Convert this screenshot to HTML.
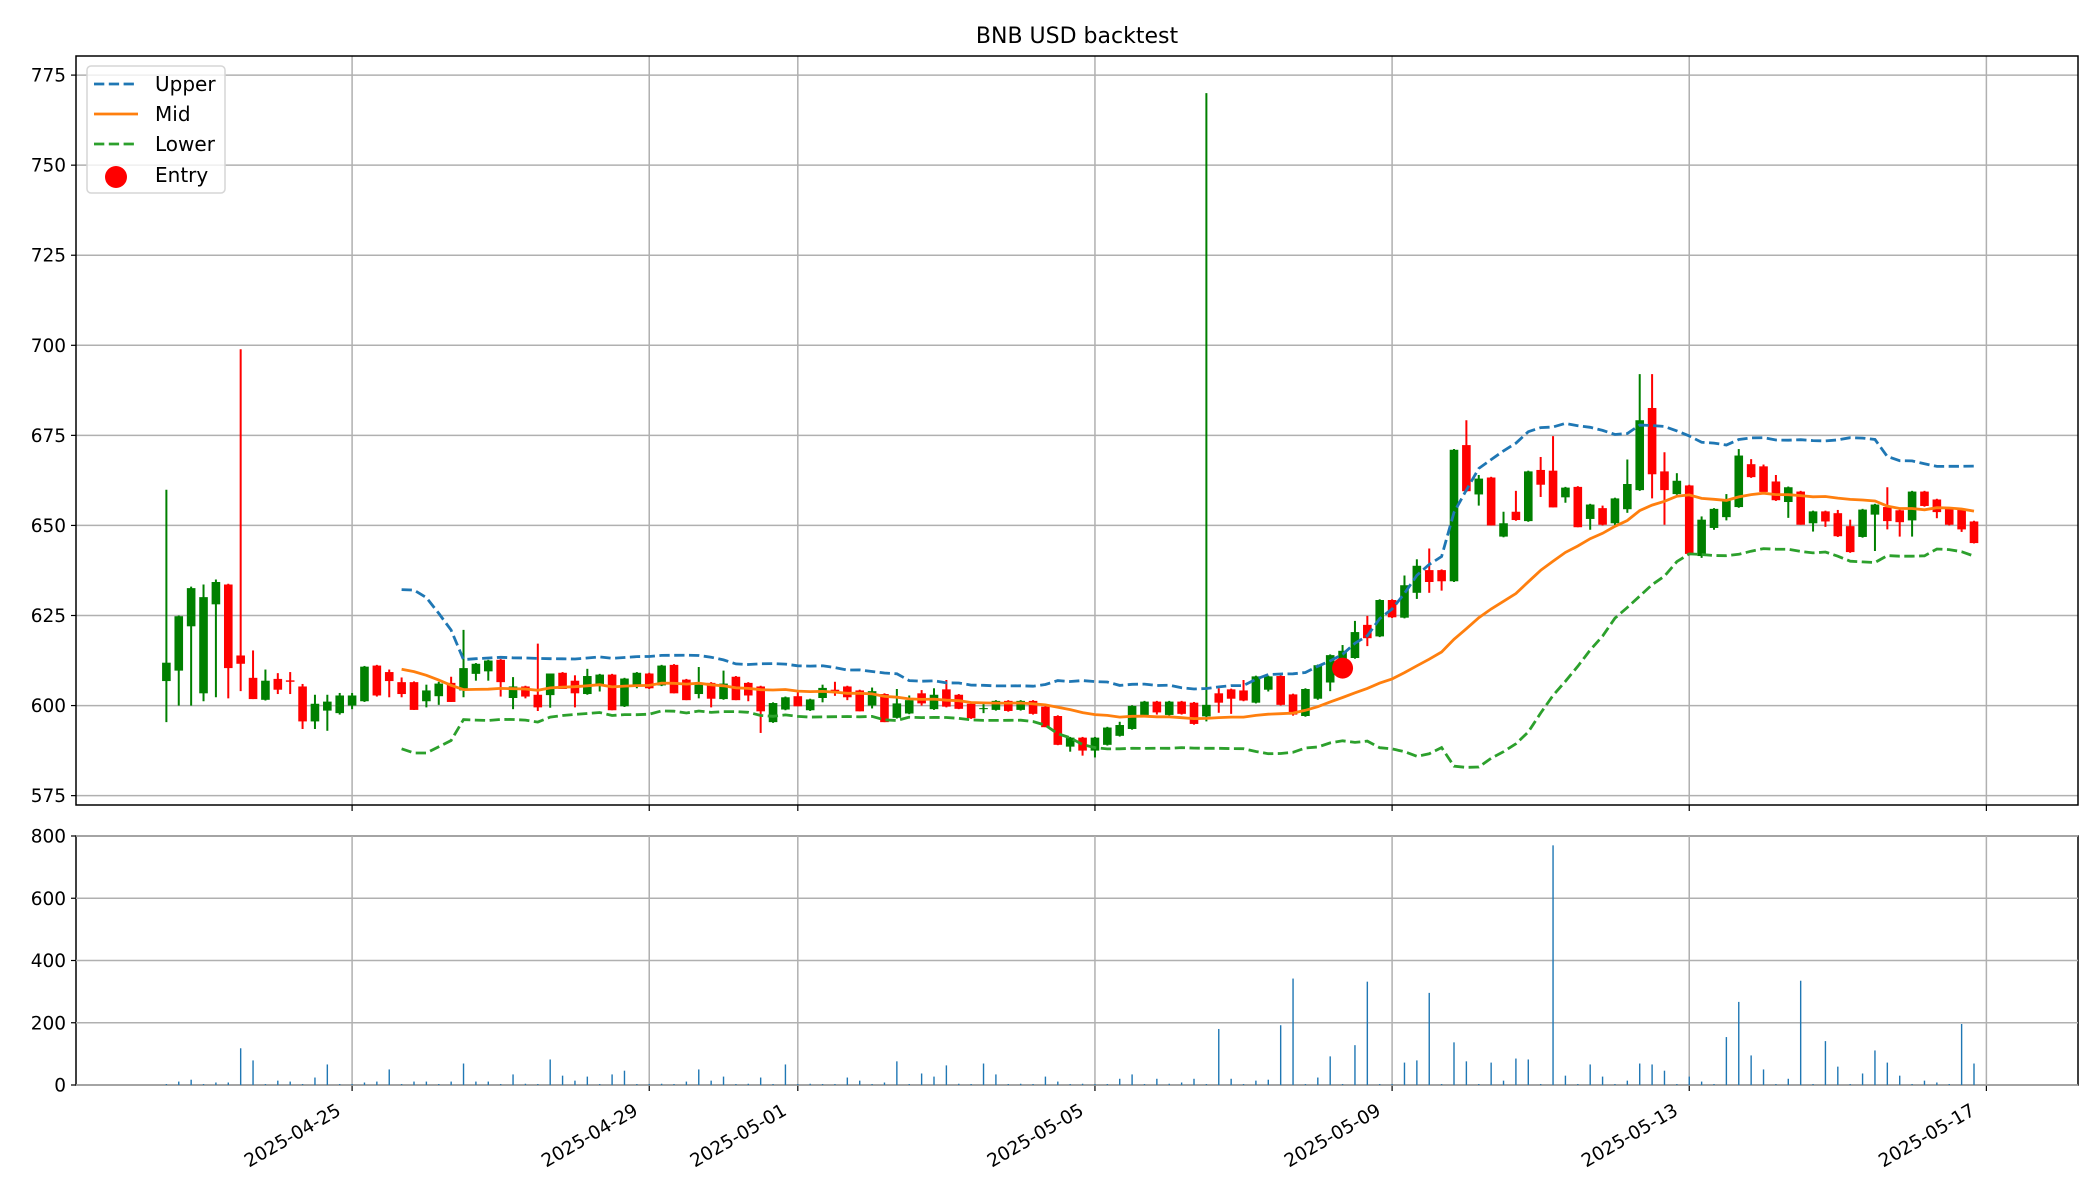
<!DOCTYPE html>
<html><head><meta charset="utf-8"><style>
html,body{margin:0;padding:0;background:#fff;}
svg{display:block;font-family:"DejaVu Sans","Liberation Sans",sans-serif;}
</style></head><body>
<svg id="chart" width="2100" height="1200" viewBox="0 0 2100 1200" xmlns="http://www.w3.org/2000/svg">
<rect width="2100" height="1200" fill="#fff"/>
<text x="1077" y="43" font-size="22" text-anchor="middle" fill="#000">BNB USD backtest</text>
<g id="main"></g><g id="vol"></g>
<g>
<rect x="87" y="66" width="138" height="127" rx="4" fill="#fff" fill-opacity="0.8" stroke="#d6d6d6" stroke-width="1.5"/>
<g><line x1="94" y1="84" x2="138" y2="84" stroke="#1f77b4" stroke-width="2.8" stroke-dasharray="10.3,4.5"/><text x="155" y="91" font-size="20">Upper</text></g>
<g><line x1="94" y1="114" x2="138" y2="114" stroke="#ff7f0e" stroke-width="2.8"/><text x="155" y="121" font-size="20">Mid</text></g>
<g><line x1="94" y1="144" x2="138" y2="144" stroke="#2ca02c" stroke-width="2.8" stroke-dasharray="10.3,4.5"/><text x="155" y="151" font-size="20">Lower</text></g>
<g><circle cx="116" cy="177" r="11" fill="#ff0000"/><text x="155" y="182" font-size="20">Entry</text></g>
</g>
</svg>
<script>
const opens=[606.8,609.7,622.0,603.4,628.1,633.6,613.9,607.7,601.6,607.4,607.0,605.3,595.6,598.6,597.9,600.0,601.2,611.1,609.3,606.5,606.5,601.2,602.6,606.3,604.2,608.8,609.5,612.7,602.1,605.3,603.0,602.9,609.1,606.9,603.2,605.4,608.6,599.8,605.6,608.9,605.6,611.3,607.2,603.2,606.3,601.8,608.0,606.3,605.3,595.4,598.9,602.6,598.7,602.1,604.4,605.3,604.2,600.0,603.2,596.6,597.8,603.4,599.0,604.5,603.0,600.5,599.0,598.8,601.3,598.8,601.3,599.7,597.1,588.6,591.1,587.5,589.1,591.6,593.5,597.4,601.1,597.4,601.1,600.8,597.0,603.4,604.5,604.2,600.8,604.4,608.2,603.1,597.1,601.9,606.4,612.3,613.2,622.4,619.2,629.3,624.4,631.3,637.6,637.6,634.5,672.3,658.6,663.3,646.9,653.8,651.2,665.4,665.2,657.8,660.7,651.8,654.8,650.6,654.5,659.8,682.6,665.0,658.7,661.1,641.5,649.3,652.3,655.1,667.0,666.4,662.2,656.5,659.4,650.6,653.9,653.4,649.8,646.8,653.0,655.1,654.2,651.4,659.4,657.2,654.6,654.4,651.1];
const highs=[659.9,625.0,633.0,633.6,635.0,633.8,698.9,615.3,610.0,609.0,609.3,606.0,603.0,603.0,603.5,603.5,611.0,611.3,610.0,607.8,606.7,605.8,606.6,608.0,621.0,611.8,612.7,612.9,607.9,605.5,617.2,608.9,609.3,608.4,610.2,608.8,608.8,607.7,609.3,609.1,611.3,611.5,607.4,610.7,606.5,609.7,608.2,606.5,605.5,600.9,602.5,603.7,601.9,605.8,606.6,605.5,604.4,605.0,603.4,604.6,602.8,604.3,604.8,607.1,603.2,600.7,600.6,601.5,601.5,601.5,601.5,599.9,597.3,591.3,591.3,591.3,594.1,595.5,600.1,601.3,601.3,601.3,601.3,601.0,770.0,604.8,604.7,607.1,608.3,608.3,608.4,603.3,604.8,611.4,614.2,616.8,623.5,624.9,629.5,629.5,636.1,640.6,643.6,637.8,671.2,679.2,664.0,663.5,653.8,659.6,665.2,669.0,674.8,660.7,660.9,656.0,655.5,657.7,668.3,692.0,692.0,670.3,664.5,661.3,652.5,654.8,658.7,671.2,668.4,666.9,664.0,660.8,659.6,654.1,654.1,654.3,651.6,654.6,656.0,660.6,654.4,659.6,659.6,657.4,654.8,654.6,651.3];
const lows=[595.4,600.0,600.0,601.2,602.3,602.0,604.0,601.8,601.4,603.2,603.2,593.5,593.5,593.0,597.5,599.0,601.0,602.5,602.3,602.3,598.8,599.5,600.2,601.0,602.3,606.9,606.9,602.5,599.0,602.0,598.5,599.4,604.6,599.5,603.0,603.9,598.7,599.6,604.8,604.6,605.4,603.4,601.5,602.0,599.5,601.6,601.5,601.2,592.4,595.2,598.7,599.8,598.5,600.9,602.7,601.5,598.4,599.2,595.4,596.4,597.6,600.0,598.8,599.5,599.0,596.3,597.9,598.6,598.3,598.6,597.5,594.0,589.0,587.2,586.1,585.6,588.9,591.4,593.3,597.2,597.5,597.2,597.5,594.7,595.6,598.0,597.7,601.2,600.6,603.9,600.0,597.2,596.9,601.6,604.0,612.1,613.0,616.5,619.0,624.3,624.2,629.6,631.3,631.9,634.3,659.3,655.5,650.0,646.7,651.3,651.0,657.9,655.0,656.3,649.5,648.8,650.0,649.5,653.5,659.6,657.5,650.2,658.5,642.1,641.0,648.8,651.4,654.9,663.2,659.1,656.8,652.1,650.2,648.3,649.6,646.8,642.4,646.6,642.9,648.9,646.9,646.9,655.2,652.0,650.0,648.2,645.0];
const closes=[611.9,624.8,632.6,630.1,634.3,610.4,611.6,601.8,606.9,604.4,606.6,595.6,600.5,601.1,602.8,602.8,610.8,602.8,606.8,603.2,598.8,604.2,606.1,601.0,610.4,611.6,612.5,606.5,605.3,602.5,599.5,608.9,604.6,603.4,608.2,608.6,598.7,607.5,609.1,604.8,611.1,603.4,601.5,605.8,601.9,606.1,601.5,602.8,598.4,600.7,602.3,599.8,601.7,604.9,604.0,602.3,598.4,604.0,595.4,600.6,601.5,600.6,603.0,599.7,599.1,596.5,599.3,601.3,598.5,601.3,597.7,594.0,589.1,591.1,587.5,591.1,593.9,594.6,599.9,601.1,598.1,601.1,597.7,594.9,600.2,600.8,601.9,601.4,608.1,608.1,600.2,597.5,604.6,611.2,614.0,615.2,620.4,618.7,629.3,624.5,633.4,638.8,634.3,634.5,671.0,659.5,663.0,650.0,650.6,651.5,665.0,661.3,655.0,660.5,649.5,655.8,650.2,657.5,661.5,679.2,664.2,659.8,662.4,642.1,651.6,654.6,656.9,669.4,663.4,659.3,657.0,660.6,650.2,653.9,651.1,647.0,642.6,654.4,655.8,651.2,650.9,659.4,655.4,653.7,650.2,648.9,645.1];
const volumes=[3,11,17,3,8,8,118,79,3,14,11,3,24,66,3,3,8,11,50,3,11,11,3,11,69,11,11,3,34,4,3,82,30,14,27,3,34,46,3,3,4,3,11,50,14,27,3,4,24,3,66,3,4,3,3,24,14,3,8,76,3,37,27,63,4,3,69,34,3,4,3,27,11,3,4,3,3,20,34,3,20,4,8,20,3,180,20,3,14,17,192,342,3,24,92,3,128,332,3,3,72,79,296,3,137,76,3,72,14,85,82,3,770,30,3,66,27,3,14,69,66,46,3,27,11,3,154,267,95,50,3,20,335,3,141,59,3,37,111,72,30,3,14,8,3,196,69];
const priceTicks=[575,600,625,650,675,700,725,750,775];
const volTicks=[0,200,400,600,800];
const dateLabels=["2025-04-25","2025-04-29","2025-05-01","2025-05-05","2025-05-09","2025-05-13","2025-05-17"];
const dateIndex=[15,39,51,75,99,123,147];
const entryIndex=[95];
const entryPrice=[610.4];
const bbPeriod=20, bbK=2;

const NS="http://www.w3.org/2000/svg";
const L=76,R=2078,MT=56,MB=805,VT=836,VB=1085;
const xmin=-7.3,xmax=154.4;
const pmin=572.4,pmax=780.3,vmax=800;
const X=i=>L+(i-xmin)/(xmax-xmin)*(R-L);
const Y=p=>MB-(p-pmin)/(pmax-pmin)*(MB-MT);
const V=v=>VB-v/vmax*(VB-VT);
function mk(parent,tag,attrs){const e=document.createElementNS(NS,tag);for(const k in attrs)e.setAttribute(k,attrs[k]);parent.appendChild(e);return e;}
const main=document.getElementById('main'), vol=document.getElementById('vol');

function grid(g,top,bot,ticks,fn,prefix){
  dateIndex.forEach(i=>{const l=mk(g,'line',{x1:X(i),x2:X(i),y1:top,y2:bot,stroke:'#b0b0b0','stroke-width':1.5});
    
    });
  ticks.forEach(t=>{const y=fn(t);if(y<top-1||y>bot+1)return;const l=mk(g,'line',{x1:L,x2:R,y1:y,y2:y,stroke:'#b0b0b0','stroke-width':1.5});
    
    
    mk(g,'line',{x1:L-5,x2:L,y1:y,y2:y,stroke:'#000','stroke-width':1.2});
    const tx=mk(g,'text',{x:L-10,y:y+6.5,'font-size':18.5,'text-anchor':'end'});tx.textContent=t;
    
    });
}
grid(main,MT,MB,priceTicks,Y,'price');
grid(vol,VT,VB,volTicks,V,'volume');

const upper=[],mid=[],lower=[];
for(let i=bbPeriod-1;i<closes.length;i++){const w=closes.slice(i-bbPeriod+1,i+1);const m=w.reduce((a,b)=>a+b,0)/bbPeriod;
  const sd=Math.sqrt(w.reduce((a,b)=>a+(b-m)*(b-m),0)/bbPeriod);mid.push([i,m]);upper.push([i,m+bbK*sd]);lower.push([i,m-bbK*sd]);}
const pts=a=>a.map(([i,v])=>X(i).toFixed(1)+','+Y(v).toFixed(1)).join(' ');

for(let i=0;i<opens.length;i++){
  const up=closes[i]>=opens[i];const c=up?'#008000':'#ff0000';const x=X(i);
  const w=mk(main,'line',{x1:x,x2:x,y1:Y(highs[i]),y2:Y(lows[i]),stroke:c,'stroke-width':2});
  
  
  const t=Y(Math.max(opens[i],closes[i])),b=Y(Math.min(opens[i],closes[i]));
  const r=mk(main,'rect',{x:x-4.3,y:t,width:8.6,height:Math.max(b-t,1),fill:c});
  
  
}
const pu=mk(main,'polyline',{points:pts(upper),fill:'none',stroke:'#1f77b4','stroke-width':2.8,'stroke-dasharray':'10.3,4.5'});


const pm=mk(main,'polyline',{points:pts(mid),fill:'none',stroke:'#ff7f0e','stroke-width':2.8});


const pl=mk(main,'polyline',{points:pts(lower),fill:'none',stroke:'#2ca02c','stroke-width':2.8,'stroke-dasharray':'10.3,4.5'});


entryIndex.forEach((ix,k)=>{const e=mk(main,'circle',{cx:X(ix),cy:Y(entryPrice[k]),r:10.5,fill:'#ff0000'});
  
  });

volumes.forEach((v,i)=>{const r=mk(vol,'rect',{x:X(i)-0.7,y:V(v),width:1.4,height:VB-V(v),fill:'#1f77b4'});
  
  });

[[MT,MB,'price-axes-frame'],[VT,VB,'volume-axes-frame']].forEach(([t,b,n])=>{const f=mk(main,'rect',{x:L,y:t,width:R-L,height:b-t,fill:'none',stroke:'#000','stroke-width':1.5});
  
  
  dateIndex.forEach(i=>mk(main,'line',{x1:X(i),x2:X(i),y1:b,y2:b+6,stroke:'#000','stroke-width':1.2}));});
dateIndex.forEach((ix,k)=>{const x=X(ix);const t=mk(main,'text',{x:0,y:0,'font-size':18.5,'text-anchor':'end',transform:`translate(${x-10},${1114}) rotate(-30)`});t.textContent=dateLabels[k];
  
  });
</script>
</body></html>
